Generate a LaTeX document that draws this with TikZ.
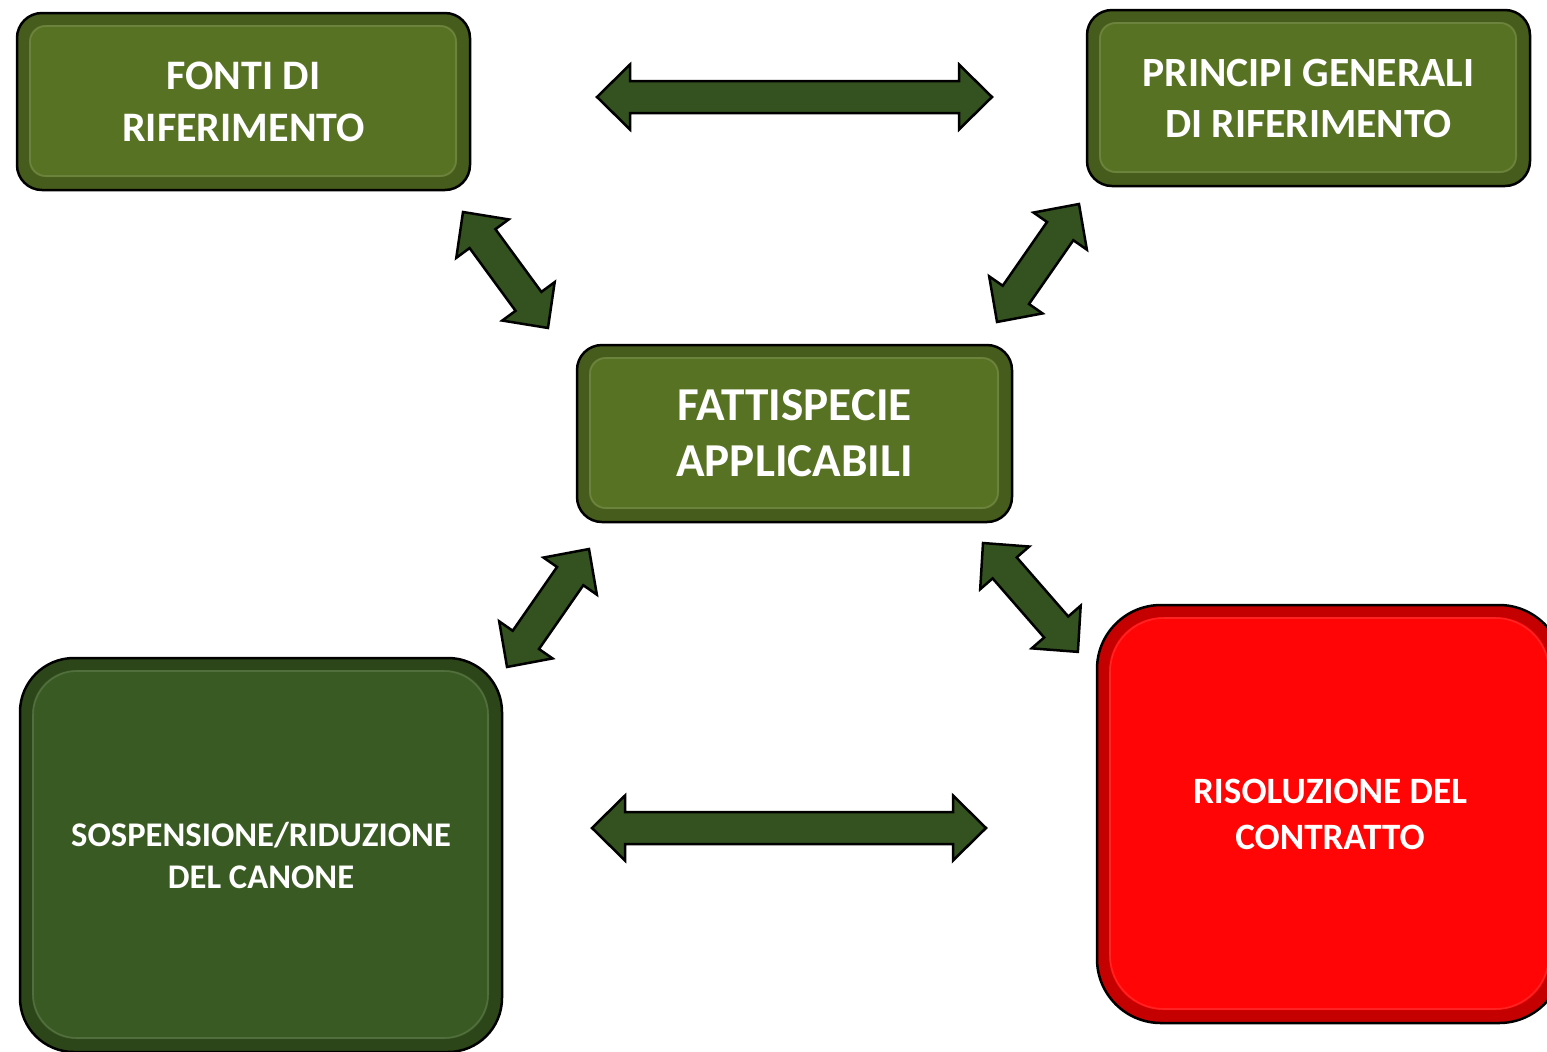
\documentclass[tikz,border=0pt]{standalone}
\usepackage{fontspec}
\setmainfont{Carlito}
\usepackage{tikz}
\usetikzlibrary{calc}

\definecolor{olive}{HTML}{587224}
\definecolor{oliveedge}{HTML}{465C1C}
\definecolor{forest}{HTML}{3A5A23}
\definecolor{forestedge}{HTML}{2C461A}
\definecolor{fire}{HTML}{FF0505}
\definecolor{fireedge}{HTML}{C40000}
\definecolor{arrowgreen}{HTML}{33521F}

\begin{document}
\begin{tikzpicture}[x=0.5pt, y=-0.5pt, 
    box/.style = {draw=black, line width=1.25pt, rounded corners=#1, align=center, text=white, inner sep=0pt},
    face/.style n args = {3}{fill=#2, path picture={
        \fill[#1, rounded corners=#3] ([shift={(6pt,-6pt)}]path picture bounding box.north west) rectangle ([shift={(-6.5pt,6.5pt)}]path picture bounding box.south east);
        \draw[white, opacity=0.12, line width=0.8pt, rounded corners=#3] ([shift={(6.5pt,-6.5pt)}]path picture bounding box.north west) rectangle ([shift={(-7pt,7pt)}]path picture bounding box.south east);}},
    greenbox/.style = {box=12.5pt, face={olive}{oliveedge}{8pt}},
    darkbox/.style = {box=27pt, face={forest}{forestedge}{22pt}},
    redbox/.style = {box=32pt, face={fire}{fireedge}{27pt}},
    arrowbody/.style = {fill=arrowgreen, draw=black, line width=1.25pt, line join=miter},
    pics/twoway/.style = {code={
        \path[arrowbody] (0pt,0pt) -- (16.5pt,16.25pt) -- (16.5pt,8pt) -- (#1-16.5pt,8pt) -- (#1-16.5pt,16.25pt) -- (#1,0pt)
            -- (#1-16.5pt,-16.25pt) -- (#1-16.5pt,-8pt) -- (16.5pt,-8pt) -- (16.5pt,-16.25pt) -- cycle;}}]
    \clip (0,0) rectangle (1547,1051);

    % boxes
    \node[greenbox, minimum width=226.5pt, minimum height=88.5pt, font=\fontsize{21}{26}\selectfont\bfseries] (fonti) at (243.5,101.5) {FONTI DI\\RIFERIMENTO};
    \node[greenbox, minimum width=221.5pt, minimum height=88pt, font=\fontsize{20.8}{25.5}\selectfont\bfseries] (principi) at (1308.5,98) {PRINCIPI GENERALI\\DI RIFERIMENTO};
    \node[greenbox, minimum width=217.5pt, minimum height=88.5pt, font=\fontsize{23.6}{28}\selectfont\bfseries] (fatt) at (794.5,433.5) {FATTISPECIE\\APPLICABILI};
    \node[darkbox, minimum width=241pt, minimum height=197pt, font=\fontsize{17.3}{21}\selectfont\bfseries] (sosp) at (261,855) {SOSPENSIONE/RIDUZIONE\\DEL CANONE};
    \node[redbox, minimum width=233pt, minimum height=209pt, font=\fontsize{18.6}{23}\selectfont\bfseries] (risol) at (1330,814) {RISOLUZIONE DEL\\CONTRATTO};

    % arrow ends
    \coordinate (top1) at (597,97);
    \coordinate (top2) at (992,97);
    \coordinate (bot1) at (592,828);
    \coordinate (bot2) at (986,828);
    \coordinate (fo1) at (463,212);
    \coordinate (fo2) at (548,328);
    \coordinate (pr1) at (1079,204);
    \coordinate (pr2) at (997,322);
    \coordinate (so1) at (589,549);
    \coordinate (so2) at (507,667);
    \coordinate (ri1) at (983,543);
    \coordinate (ri2) at (1078,652);

    % double arrows
    \foreach \a/\b in {top1/top2, bot1/bot2, fo1/fo2, pr1/pr2, so1/so2, ri1/ri2}
        \path let \p1 = ($(\b)-(\a)$), \n1 = {atan2(\y1,\x1)}, \n2 = {veclen(\x1,\y1)} in
            pic[rotate=\n1] at (\a) {twoway=\n2};
\end{tikzpicture}
\end{document}
